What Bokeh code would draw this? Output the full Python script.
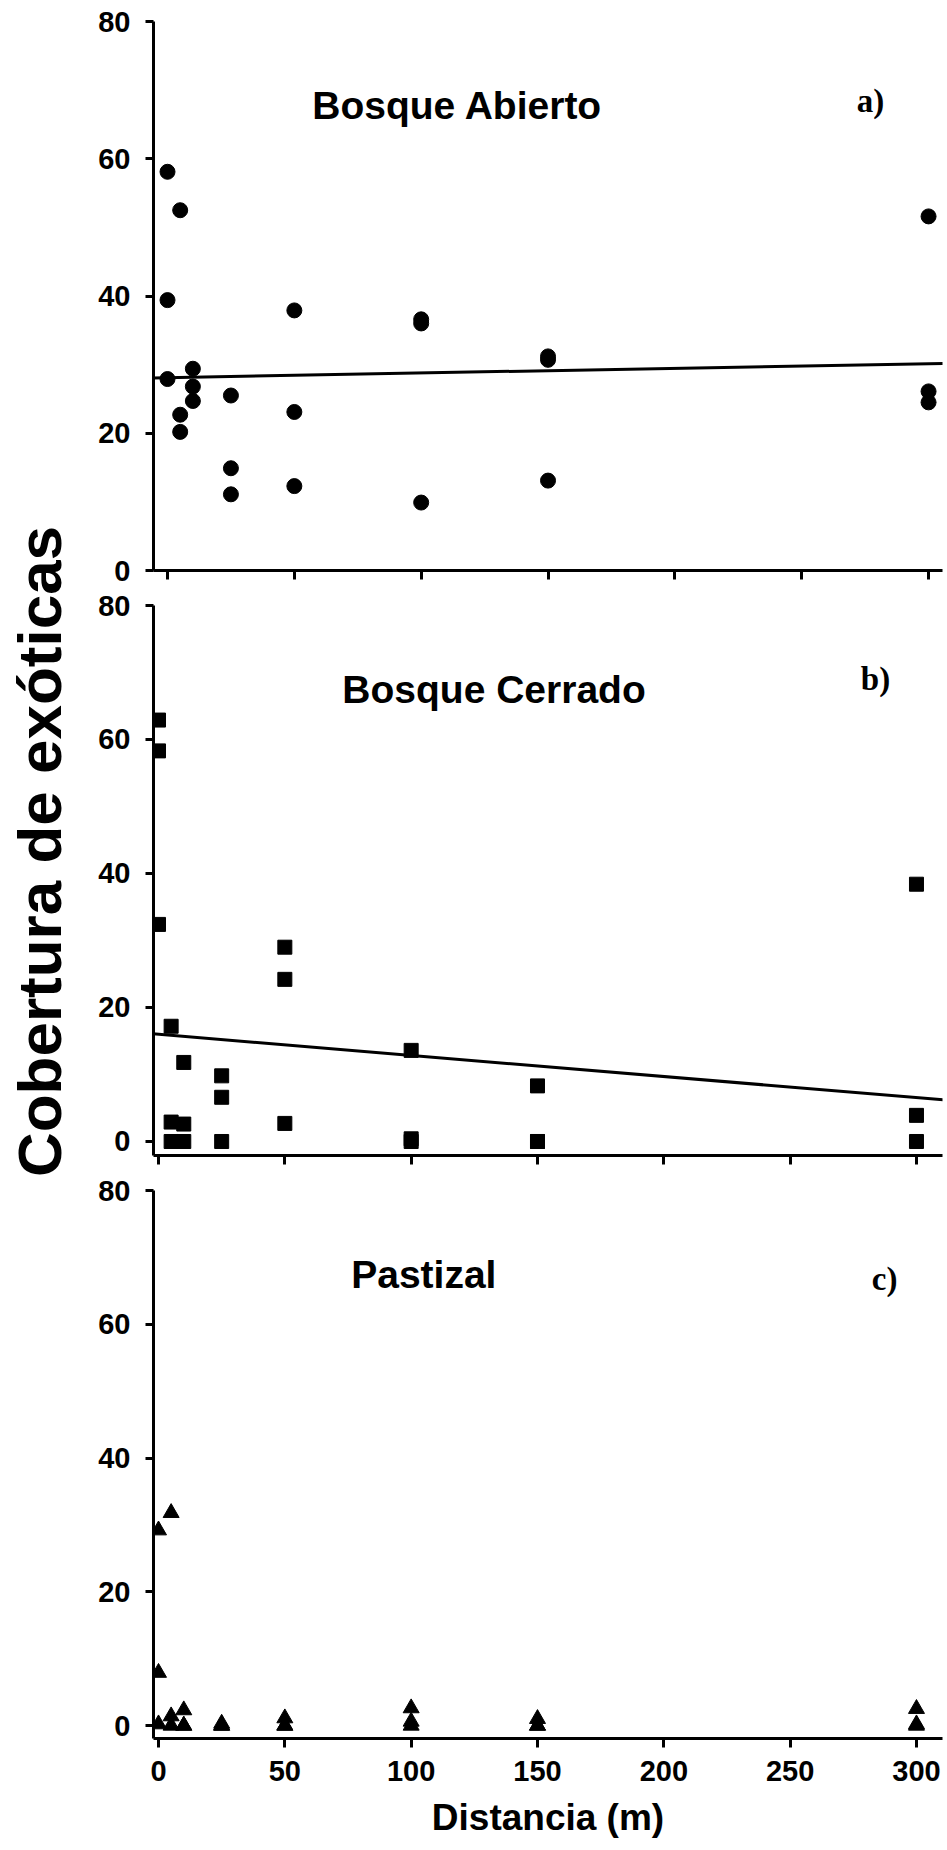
import math
from bokeh.plotting import figure
from bokeh.layouts import row, column
from bokeh.models import FixedTicker, Label, Slope, Range1d, CustomJSTickFormatter
from bokeh.core.properties import value
from bokeh.embed import file_html
from bokeh.resources import INLINE

# ---------------- data ----------------
x_ticks = [0, 50, 100, 150, 200, 250, 300]
y_ticks = [0, 20, 40, 60, 80]

# distance of each sample (three samples per distance)
dist = [0, 0, 0, 5, 5, 5, 10, 10, 10, 25, 25, 25,
        50, 50, 50, 100, 100, 100, 150, 150, 150, 300, 300, 300]

abierto_cov = [58.1, 39.4, 27.9, 52.5, 22.7, 20.2, 29.4, 26.8, 24.7, 25.5, 14.9, 11.1,
               37.9, 23.1, 12.3, 36.6, 36.0, 9.9, 31.2, 30.7, 13.1, 51.6, 26.1, 24.5]
abierto_intercept = 28.1
abierto_slope = 0.0068

cerrado_cov = [62.9, 58.3, 32.4, 17.2, 2.9, 0.0, 11.8, 2.6, 0.0, 9.8, 6.6, 0.0,
               29.0, 24.2, 2.7, 13.6, 0.4, 0.0, 8.3, 0.0, 0.0, 38.4, 3.9, 0.0]
cerrado_intercept = 16.0
cerrado_slope = -0.0315

pastizal_cov = [29.2, 7.9, 0.2, 31.8, 1.4, 0.0, 2.3, 0.0, 0.0, 0.3, 0.0, 0.0,
                1.1, 0.0, 0.0, 2.6, 0.6, 0.0, 1.0, 0.0, 0.0, 2.5, 0.2, 0.0]

titles = ["Bosque Abierto", "Bosque Cerrado", "Pastizal"]
letters = ["a)", "b)", "c)"]
x_label = "Distancia (m)"
y_label = "Cobertura de exóticas"

SANS = "Liberation Sans"
SERIF = "Liberation Serif"


def make_panel(height, top, bottom, xr, yr, show_labels):
    p = figure(width=857, height=height, x_range=Range1d(*xr), y_range=Range1d(*yr),
               toolbar_location=None, output_backend="svg",
               min_border_left=63, min_border_right=5,
               min_border_top=top, min_border_bottom=bottom)
    p.outline_line_color = None
    p.background_fill_color = "white"
    p.border_fill_color = "white"
    p.xgrid.visible = False
    p.ygrid.visible = False
    for ax in (p.xaxis[0], p.yaxis[0]):
        ax.axis_line_width = 3
        ax.axis_line_color = "black"
        ax.major_tick_line_width = 3
        ax.major_tick_line_color = "black"
        ax.major_tick_in = 0
        ax.minor_tick_line_color = None
        ax.major_label_text_font = SANS
        ax.major_label_text_font_style = "bold"
        ax.major_label_text_font_size = "29px"
        ax.major_label_text_color = "black"
    p.yaxis.ticker = FixedTicker(ticks=y_ticks)
    p.yaxis.major_tick_out = 8
    p.yaxis.major_label_standoff = 15
    p.xaxis.ticker = FixedTicker(ticks=x_ticks)
    p.xaxis.major_tick_out = 9
    if show_labels:
        p.xaxis.major_label_standoff = 13
        p.xaxis.axis_label = x_label
        p.xaxis.axis_label_text_font = SANS
        p.xaxis.axis_label_text_font_style = "bold"
        p.xaxis.axis_label_text_font_size = "37px"
        p.xaxis.axis_label_text_color = "black"
        p.xaxis.axis_label_standoff = 13
    else:
        p.xaxis.formatter = CustomJSTickFormatter(code="return ''")
        p.xaxis.major_label_text_font_size = "1px"
        p.xaxis.major_label_standoff = 0
    return p


def add_texts(p, title, tx, ty, letter, lx, ly):
    p.add_layout(Label(x=tx, y=ty, text=title, text_align="center", text_baseline="alphabetic",
                       text_font=SANS, text_font_style="bold", text_font_size="39px",
                       text_color="black"))
    p.add_layout(Label(x=lx, y=ly, text=letter, text_align="center", text_baseline="alphabetic",
                       text_font=SERIF, text_font_style="bold", text_font_size="33px",
                       text_color="black"))


# panel a
pa = make_panel(588, 21, 18, (-5.52, 305.5), (0, 80), False)
pa.scatter(dist, abierto_cov, marker="circle", size=15, color="black")
pa.add_layout(Slope(gradient=abierto_slope, y_intercept=abierto_intercept,
                    line_color="black", line_width=3))
add_texts(pa, titles[0], 114.3, 67.8, letters[0], 277.1, 68.4)

# panel b
pb = make_panel(584, 17, 17, (-1.98, 310.3), (-2.09, 80), False)
pb.scatter(dist, cerrado_cov, marker="square", size=14, color="black")
pb.add_layout(Slope(gradient=cerrado_slope, y_intercept=cerrado_intercept,
                    line_color="black", line_width=3))
add_texts(pb, titles[1], 132.8, 67.5, letters[1], 283.8, 69.0)

# panel c
pc = make_panel(678, 18, 112, (-1.98, 310.3), (-1.94, 80), True)
pc.scatter(dist, pastizal_cov, marker="triangle", size=16, color="black")
add_texts(pc, titles[2], 105.0, 67.5, letters[2], 287.4, 66.8)

# big shared y label
pl = figure(width=90, height=1850, x_range=Range1d(0, 90), y_range=Range1d(0, 1850),
            x_axis_type=None, y_axis_type=None, toolbar_location=None,
            output_backend="svg", min_border=0)
pl.outline_line_color = None
pl.xgrid.visible = False
pl.ygrid.visible = False
pl.text(x=[39], y=[999], text=[y_label], angle=math.pi / 2,
        text_align="center", text_baseline="alphabetic",
        text_font=value(SANS), text_font_style="bold",
        text_font_size=value("62px"), text_color="black")

layout = row(pl, column(pa, pb, pc))

open("out.html", "w").write(file_html(layout, INLINE))
